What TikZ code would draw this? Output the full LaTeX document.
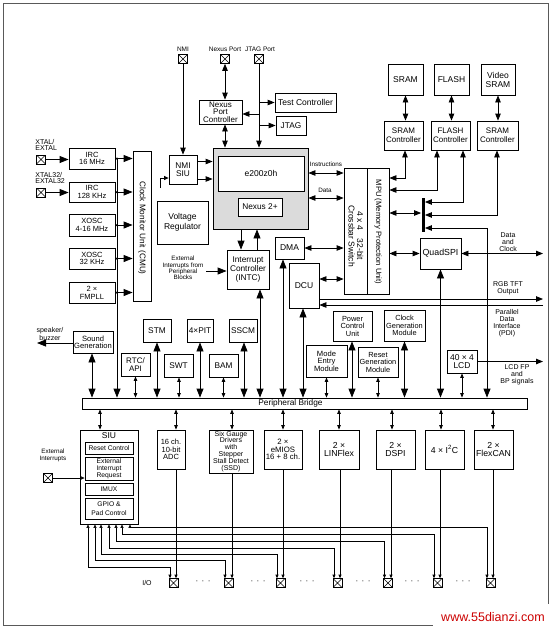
\documentclass[tikz,border=0pt]{standalone}
\usepackage{fontspec}
\setmainfont{Liberation Sans}
\usetikzlibrary{arrows.meta}
\newcommand\fsz[2]{\fontsize{#1}{#2}\selectfont}
\begin{document}
\begin{tikzpicture}[x=1pt,y=-1pt,line width=0.8pt,
  blk/.style={draw,fill=white,align=center,inner sep=0pt,font=\fsz{8.3}{8.5}},
  lbl/.style={align=center,inner sep=0pt,font=\fsz{6.5}{6.5}},
  iopad/.style={draw,fill=white,minimum size=9pt,inner sep=0pt,line width=0.6pt,
    path picture={\draw[line width=0.5pt] (path picture bounding box.south west) -- (path picture bounding box.north east) (path picture bounding box.north west) -- (path picture bounding box.south east);}},
  big/.style={-{Triangle[length=9pt,width=7pt]}},
  bigd/.style={{Triangle[length=9pt,width=7pt]}-{Triangle[length=9pt,width=7pt]}},
  med/.style={-{Triangle[length=7pt,width=5.5pt]}},
  medd/.style={{Triangle[length=7pt,width=5.5pt]}-{Triangle[length=7pt,width=5.5pt]}},
  smd/.style={{Triangle[length=4.5pt,width=3.5pt]}-{Triangle[length=4.5pt,width=3.5pt]}},
  thinl/.style={line width=0.6pt},
  tsm/.style={thinl,-{Triangle[length=3.5pt,width=3pt]}},
  tsmd/.style={thinl,{Triangle[length=3.5pt,width=3pt]}-{Triangle[length=3.5pt,width=3pt]}},
  jdot/.style={circle,fill,inner sep=0pt,minimum size=2.5pt}]
\useasboundingbox (0,0) rectangle (553,630);
\draw[black!65,line width=1pt] (3,3) rectangle (548,625);

% ---------- top pads ----------
\node[lbl] (nmilbl) at (183,49) {NMI};
\node[iopad] (nmipad) at (183,59) {};
\node[lbl] (nxlbl) at (225,49) {Nexus Port};
\node[iopad] (nxpad) at (225,59) {};
\node[lbl] (jtlbl) at (260,49) {JTAG Port};
\node[iopad] (jtpad) at (259,59) {};

\node[blk,minimum width=43,minimum height=24,font=\fsz{8}{7.4}] (npc) at (220.5,112) {Nexus\\Port\\Controller};
\node[blk,minimum width=61,minimum height=19,font=\fsz{8.5}{9}] (testc) at (305.5,102.5) {Test Controller};
\node[blk,minimum width=30,minimum height=19] (jtag) at (291,125.5) {JTAG};
\node[blk,minimum width=28,minimum height=29] (nmisiu) at (183,169.5) {NMI\\SIU};

% core
\node[draw,fill=black!14,minimum width=95,minimum height=81,inner sep=0pt] (core) at (260.5,188.5) {};
\node[blk,minimum width=86,minimum height=35,font=\fsz{8.5}{9}] (e200) at (261,173.5) {e200z0h};
\node[blk,minimum width=44,minimum height=18] (nx2) at (260,207) {Nexus 2+};

% memories
\node[blk,minimum width=35,minimum height=31,font=\fsz{8.5}{9}] (sram) at (405.5,79.5) {SRAM};
\node[blk,minimum width=35,minimum height=31,font=\fsz{8.5}{9}] (flash) at (451.5,79.5) {FLASH};
\node[blk,minimum width=34,minimum height=31,font=\fsz{8.5}{9}] (vsram) at (498,79.5) {Video\\SRAM};
\node[blk,minimum width=39,minimum height=29,font=\fsz{8}{9}] (sramc) at (403.5,135.5) {SRAM\\Controller};
\node[blk,minimum width=39,minimum height=29,font=\fsz{8}{9}] (flashc) at (450.5,135.5) {FLASH\\Controller};
\node[blk,minimum width=41,minimum height=29,font=\fsz{8}{9}] (vsramc) at (497.5,135.5) {SRAM\\Controller};

% crossbar / mpu
\node[blk,minimum width=23,minimum height=126] (xbar) at (355.5,231) {};
\node[rotate=-90,align=center,inner sep=0pt,font=\fsz{8.5}{8.5}] (xbartxt) at (356,236) {4 x 4\quad 32-bit\\Crossbar Switch};
\node[blk,minimum width=22,minimum height=126] (mpu) at (378,231) {};
\node[rotate=-90,inner sep=0pt,font=\fsz{7.7}{8}] (mputxt) at (378,232) {MPU (Memory Protection Unit)};
\node[fill=black,minimum width=3,minimum height=34,inner sep=0pt] (bar) at (423,215) {};

\node[blk,minimum width=29,minimum height=22,font=\fsz{8.5}{9}] (dma) at (289.5,248) {DMA};
\node[blk,minimum width=30,minimum height=45,font=\fsz{8.5}{9}] (dcu) at (304,285.5) {DCU};
\node[blk,minimum width=42,minimum height=39,font=\fsz{8.3}{9}] (intc) at (248,269.5) {Interrupt\\Controller\\(INTC)};
\node[blk,minimum width=51,minimum height=43,font=\fsz{8.5}{9.5}] (vreg) at (182.5,222.5) {Voltage\\Regulator};
\node[blk,minimum width=41,minimum height=31,font=\fsz{8.8}{9}] (qspi) at (440.5,253.5) {QuadSPI};

% clocks
\node[blk,minimum width=18,minimum height=150] (cmu) at (142,226) {};
\node[rotate=-90,inner sep=0pt,font=\fsz{8.2}{8}] (cmutxt) at (142,228) {Clock Monitor Unit (CMU)};
\node[blk,minimum width=46,minimum height=21,font=\fsz{7.5}{7.8}] (irc16) at (92,158.5) {IRC\\16 MHz};
\node[blk,minimum width=46,minimum height=20,font=\fsz{7.5}{7.8}] (irc128) at (92,192) {IRC\\128 KHz};
\node[blk,minimum width=46,minimum height=22,font=\fsz{7.5}{7.8}] (xosc4) at (92,225) {XOSC\\4-16 MHz};
\node[blk,minimum width=46,minimum height=21,font=\fsz{7.5}{7.8}] (xosc32) at (92,258.5) {XOSC\\32 KHz};
\node[blk,minimum width=46,minimum height=21,font=\fsz{7.5}{7.8}] (fmpll) at (92,292.5) {2 ×\\FMPLL};
\node[lbl,anchor=west,align=left,font=\fsz{7}{6.8}] (xtallbl) at (35,145) {XTAL/\\EXTAL};
\node[lbl,anchor=west,align=left,font=\fsz{7}{6.8}] (xtal32lbl) at (35,178) {XTAL32/\\EXTAL32};
\node[iopad] (xtalpad) at (41,159.5) {};
\node[iopad] (xtal32pad) at (41,192.5) {};

% lower-left peripherals
\node[blk,minimum width=40,minimum height=22,font=\fsz{7.6}{7}] (sound) at (93,342) {Sound\\Generation};
\node[lbl,font=\fsz{7}{6.5}] (spk) at (50,334) {speaker/\\buzzer};
\coordinate (spkend) at (37,343);
\node[blk,minimum width=28,minimum height=23] (stm) at (157,330.5) {STM};
\node[blk,minimum width=26,minimum height=23] (pit) at (200,330.5) {4×PIT};
\node[blk,minimum width=28,minimum height=23] (sscm) at (243,330.5) {SSCM};
\node[blk,minimum width=29,minimum height=23,font=\fsz{8}{7.5}] (rtc) at (135.5,364.5) {RTC/\\API};
\node[blk,minimum width=29,minimum height=23] (swt) at (178.5,365.5) {SWT};
\node[blk,minimum width=29,minimum height=23] (bam) at (223.5,365.5) {BAM};

\node[blk,minimum width=39,minimum height=30,font=\fsz{7.4}{7.5}] (pcu) at (352.5,326) {Power\\Control\\Unit};
\node[blk,minimum width=41,minimum height=31,font=\fsz{7.4}{7.5}] (cgm) at (404.5,325.5) {Clock\\Generation\\Module};
\node[blk,minimum width=41,minimum height=32,font=\fsz{7.6}{7.5}] (mem) at (326.5,361) {Mode\\Entry\\Module};
\node[blk,minimum width=40,minimum height=30,font=\fsz{7.4}{7.5}] (rgm) at (378,362) {Reset\\Generation\\Module};
\node[blk,minimum width=30,minimum height=23,font=\fsz{8.5}{8}] (lcd) at (462,361.5) {40 × 4\\LCD};

% bridge
\node[draw,fill=white,minimum width=445,minimum height=11,inner sep=0pt] (bridge) at (304.5,403.5) {};
\node[inner sep=0pt,font=\fsz{8.3}{8}] (bridgetxt) at (290.5,403.5) {Peripheral Bridge};

% bottom modules
\node[draw,fill=white,minimum width=58,minimum height=94,inner sep=0pt] (siu) at (109,477) {};
\node[inner sep=0pt,font=\fsz{8.5}{8}] (siutxt) at (109,436) {SIU};
\node[blk,minimum width=48,minimum height=12,font=\fsz{6.7}{6.5}] (rstc) at (109,448) {Reset Control};
\node[blk,minimum width=48,minimum height=23,font=\fsz{6.7}{6.8}] (eir) at (109,468.5) {External\\Interrupt\\Request};
\node[blk,minimum width=48,minimum height=12,font=\fsz{6.7}{6.5}] (imux) at (109,489) {IMUX};
\node[blk,minimum width=48,minimum height=21,font=\fsz{6.7}{8.5}] (gpio) at (109,508.5) {GPIO \&\\Pad Control};
\node[lbl,font=\fsz{6.3}{6.5}] (extlbl) at (53,455.5) {External\\Interrupts};
\node[iopad] (extpad) at (48,478) {};

\node[blk,minimum width=28,minimum height=39,font=\fsz{7.5}{7.8}] (adc) at (171,449.5) {16 ch.\\10-bit\\ADC};
\node[blk,minimum width=44,minimum height=43,font=\fsz{7}{6.9}] (ssd) at (231,451.5) {Six Gauge\\Drivers\\with\\Stepper\\Stall Detect\\(SSD)};
\node[blk,minimum width=38,minimum height=39,font=\fsz{7.8}{7.5}] (emios) at (283,449.5) {2 ×\\eMIOS\\16 + 8 ch.};
\node[blk,minimum width=40,minimum height=39,font=\fsz{8.7}{7.5}] (lin) at (339,449.5) {2 ×\\LINFlex};
\node[blk,minimum width=39,minimum height=39,font=\fsz{8.7}{7.5}] (dspi) at (395.5,449.5) {2 ×\\DSPI};
\node[blk,minimum width=39,minimum height=39,font=\fsz{8.7}{7.5}] (i2c) at (444.5,449.5) {4 × I\textsuperscript{2}C};
\node[blk,minimum width=39,minimum height=39,font=\fsz{8.7}{7.5}] (can) at (493.5,449.5) {2 ×\\FlexCAN};

% bottom pads
\node[lbl,font=\fsz{7}{7}] (iolbl) at (147,583) {I/O};
\node[iopad] (p1) at (173.5,583) {};
\node[iopad] (p2) at (228.5,583) {};
\node[iopad] (p3) at (280.5,583) {};
\node[iopad] (p4) at (337.5,583) {};
\node[iopad] (p5) at (388,583) {};
\node[iopad] (p6) at (437.5,583) {};
\node[iopad] (p7) at (490.5,583) {};
\foreach \xx/\nm in {203/d1,258/d2,307/d3,363/d4,412/d5,463/d6}
  \node[lbl,font=\fsz{8}{8}] (\nm) at (\xx,582) {·\hspace{3.5pt}·\hspace{3.5pt}·};

% ---------- connectors: top ----------
\draw[med] (nmipad.south) -- (nmisiu.north);
\draw[medd] (nxpad.south) -- (nxpad.south |- npc.north);
\draw[medd] (225,0 |- npc.south) -- (225,0 |- core.north);
\draw[med] (jtpad.south) -- (jtpad.south |- core.north);
\draw[med] (jtpad.south |- testc.west) -- (testc.west);
\draw[med] (jtpad.south |- jtag.west) -- (jtag.west);
\draw[med] (jtpad.south |- 0,114) -- (npc.east |- 0,114);
\draw[med] (nmisiu.east |- 0,161.5) -- (core.west |- 0,161.5);
\draw[med] (nmisiu.east |- 0,179) -- (core.west |- 0,179);
\draw[-{Triangle[length=4.5pt,width=4pt]}] (160,188) |- (nmisiu.west |- 0,178);

\node[lbl,font=\fsz{6.3}{6}] (inslbl) at (326,164) {Instructions};
\node[lbl,font=\fsz{6.3}{6}] (datalbl) at (325,190) {Data};
\draw[medd] (core.east |- 0,173) -- (xbar.west |- 0,173);
\draw[medd] (core.east |- 0,198) -- (xbar.west |- 0,198);
\draw[medd] (dma.east) -- (xbar.west |- dma.east);
\draw[medd] (dcu.east |- 0,279) -- (xbar.west |- 0,279);

\draw[big] (241,0 |- core.south) -- (241,0 |- intc.north);
\draw[big] (257,0 |- intc.north) -- (257,0 |- core.south);
\node[lbl,font=\fsz{6.3}{6.2}] (extint) at (183,268) {External\\Interrupts from\\Peripheral\\Blocks};
\draw[big] (206,271) -- (intc.west |- 0,271);

% memories
\draw[medd] (sram.south) -- (sram.south |- sramc.north);
\draw[medd] (flash.south) -- (flash.south |- flashc.north);
\draw[medd] (vsram.south) -- (vsram.south |- vsramc.north);
\draw[medd] (405,0 |- sramc.south) |- (mpu.east |- 0,178);
\draw[medd] (437,0 |- flashc.south) |- (mpu.east |- 0,190);
\draw[medd] (463,0 |- flashc.south) |- (bar.east |- 0,202);
\draw[medd] (497,0 |- vsramc.south) |- (bar.east |- 0,215);
\draw[medd] (mpu.east |- 0,213) -- (bar.west |- 0,213);
\draw[{Triangle[length=7pt,width=5.5pt]}-{Triangle[length=9pt,width=7pt]}] (bar.east |- 0,228) -| (487,0 |- bridge.north);

% quadspi / dcu outputs
\draw[medd] (mpu.east |- qspi.west) -- (qspi.west);
\coordinate (dcoend) at (543,253.5);
\draw[medd] (qspi.east) -- (dcoend);
\node[lbl,font=\fsz{7}{6.8}] (dclbl) at (508,242) {Data\\and\\Clock};
\coordinate (rgbend) at (543,299);
\draw[med] (dcu.east |- rgbend) -- (rgbend);
\node[lbl,font=\fsz{7}{7}] (rgblbl) at (508,288.5) {RGB TFT\\Output};
\coordinate (pdiend) at (543,305);
\draw[med] (pdiend) -- (dcu.east |- pdiend);
\node[lbl,font=\fsz{7}{6.8}] (pdilbl) at (507,323) {Parallel\\Data\\Interface\\(PDI)};
\coordinate (lcdend) at (543,361.5);
\draw[med] (lcd.east) -- (lcdend);
\node[lbl,font=\fsz{7}{6.8}] (lcdlbl) at (517,375) {LCD FP\\and\\BP signals};

% clocks
\draw[big] (xtalpad.east) -- (irc16.west |- xtalpad.east);
\draw[big] (xtal32pad.east) -- (irc128.west |- xtal32pad.east);
\draw[big] (117,0 |- irc16.east) -- (117,0 |- bridge.north);
\foreach \n in {irc16,irc128,xosc4,xosc32,fmpll}{
  \draw (\n.east) -- (117,0 |- \n.east);
  \draw[big] (117,0 |- \n.east) -- (cmu.west |- \n.east);
  \node[jdot] at (117,0 |- \n.east) {};
}

% to bridge (upper side)
\draw[big] (sound.west |- spkend) -- (spkend);
\draw[bigd] (92,0 |- sound.south) -- (92,0 |- bridge.north);
\draw[bigd] (stm.south) -- (stm.south |- bridge.north);
\draw[bigd] (pit.south) -- (pit.south |- bridge.north);
\draw[bigd] (244,0 |- sscm.south) -- (244,0 |- bridge.north);
\draw[smd] (rtc.south) -- (rtc.south |- bridge.north);
\draw[smd] (179,0 |- swt.south) -- (179,0 |- bridge.north);
\draw[smd] (bam.south) -- (bam.south |- bridge.north);
\draw[bigd] (260,0 |- intc.south) -- (260,0 |- bridge.north);
\draw[bigd] (283,0 |- dma.south) -- (283,0 |- bridge.north);
\draw[bigd] (303,0 |- dcu.south) -- (303,0 |- bridge.north);
\draw[bigd] (352,0 |- pcu.south) -- (352,0 |- bridge.north);
\draw[bigd] (cgm.south) -- (cgm.south |- bridge.north);
\draw[smd] (mem.south) -- (mem.south |- bridge.north);
\draw[smd] (rgm.south) -- (rgm.south |- bridge.north);
\draw[bigd] (qspi.south) -- (qspi.south |- bridge.north);
\draw[smd] (lcd.south) -- (lcd.south |- bridge.north);

% bridge to bottom modules
\draw[smd] (100,0 |- bridge.south) -- (100,0 |- siu.north);
\foreach \xx/\n in {176/adc,232/ssd,283/emios,339/lin,392/dspi,441/i2c,493/can}
  \draw[smd] (\xx,0 |- bridge.south) -- (\xx,0 |- \n.north);

% module lines to pads
\foreach \xx/\n/\p in {176/adc/p1,232/ssd/p2,283/emios/p3,340/lin/p4,391/dspi/p5,440/i2c/p6,493/can/p7}
  \draw[tsm] (\xx,0 |- \n.south) -- (\xx,0 |- \p.north);

% GPIO lines
\foreach \xs/\yy/\xp/\p in {88/567/170/p1,95/560/225/p2,101/554/277/p3,109/548/334/p4,116/541/384.5/p5,122/534/434/p6,130/527/487/p7}
  \draw[tsmd] (\xs,0 |- siu.south) |- (\xp,\yy) -- (\xp,0 |- \p.north);

\draw[tsm] (extpad.east) -- (eir.west |- extpad.east);

% watermark
\node[fill=white,text=red!80!black,font=\fsz{12.5}{13},minimum width=120,minimum height=26,inner sep=0pt] (wm) at (493,617) {www.55dianzi.com};
\end{tikzpicture}
\end{document}
